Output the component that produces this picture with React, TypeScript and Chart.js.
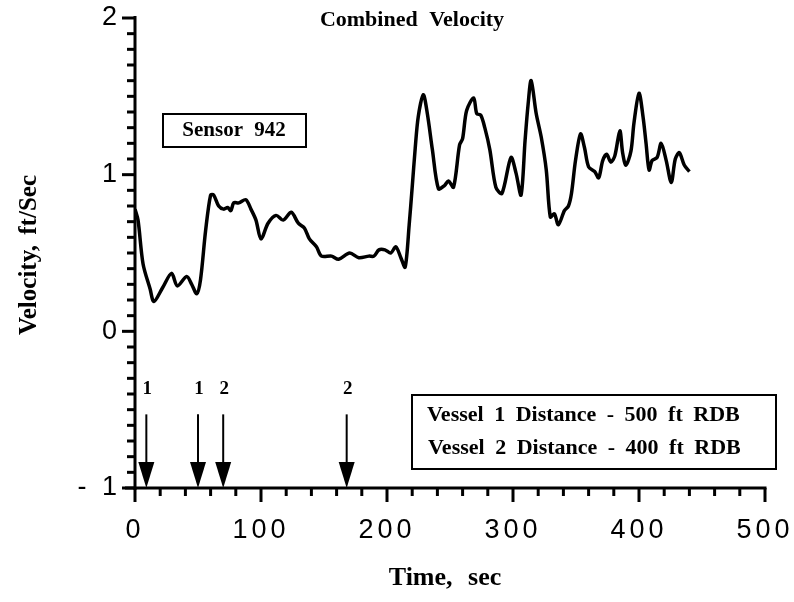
import { useEffect, useRef } from 'react';
import { Chart, registerables } from 'chart.js';

Chart.register(...registerables);

// Time (sec)
const times = [
  0, 2.4, 6.4, 12, 15, 22, 29, 33.6, 41, 45,
  49, 52, 56, 60, 62.4, 66.4, 70.4, 73.6, 76, 78.4,
  82.4, 88, 92, 96, 100, 105.6, 112, 117.6, 124, 129.6,
  134.4, 138.4, 144, 148, 156, 161.6, 170.4, 177.6, 185.6, 189.6,
  193.6, 198.4, 203, 207, 211, 214.4, 217.6, 220, 222.4, 224.8,
  228.8, 232, 236, 240.8, 245.6, 248.8, 252.8, 257.6, 260, 263.2,
  268.8, 271.2, 274.4, 277.6, 281.6, 286.4, 291.2, 298.4, 302.4, 306.4,
  309.6, 312, 314.4, 318.4, 322.4, 326.4, 329.6, 332.8, 336, 340.8,
  344, 346.4, 349.6, 353.6, 356.8, 360, 364.8, 368, 371.2, 374.4,
  377.6, 380.8, 384.8, 387, 389.6, 393.6, 396, 400, 403.2, 405.6,
  408, 410.4, 414.4, 417.6, 421.6, 425.6, 428.8, 432, 436, 440,
];

// Combined velocity (ft/sec)
const velocity = [
  0.78, 0.71, 0.43, 0.27, 0.19, 0.28, 0.37, 0.29, 0.35, 0.3,
  0.24, 0.33, 0.64, 0.87, 0.87, 0.8, 0.78, 0.79, 0.77, 0.82,
  0.82, 0.84, 0.78, 0.71, 0.59, 0.69, 0.74, 0.71, 0.76, 0.69,
  0.66, 0.59, 0.54, 0.48, 0.48, 0.46, 0.5, 0.47, 0.48, 0.48,
  0.52, 0.52, 0.5, 0.54, 0.47, 0.41, 0.68, 0.92, 1.17, 1.37,
  1.51, 1.39, 1.16, 0.91, 0.93, 0.96, 0.92, 1.19, 1.23, 1.41,
  1.49, 1.39, 1.38, 1.3, 1.16, 0.92, 0.88, 1.11, 1.01, 0.87,
  1.22, 1.45, 1.6, 1.39, 1.24, 1.03, 0.73, 0.75, 0.68, 0.77,
  0.8, 0.88, 1.09, 1.26, 1.17, 1.05, 1.02, 0.98, 1.09, 1.13,
  1.08, 1.12, 1.28, 1.14, 1.06, 1.15, 1.33, 1.52, 1.37, 1.2,
  1.03, 1.09, 1.11, 1.2, 1.09, 0.95, 1.1, 1.14, 1.06, 1.02,
];

const yTickLabels: Record<string, string> = { '2': '2', '1': '1', '0': '0', '-1': '- 1' };

// Vessel passage markers
const arrowTimes = [9, 50, 70, 168];
const arrowLabels = ['1', '1', '2', '2'];
const ARROW_TOP = -0.53;
const ARROW_LABEL_Y = -0.37;

const chartTitle = 'Combined Velocity';
const xTitle = 'Time, sec';
const yTitle = 'Velocity, ft/Sec';
const sensorLabel = 'Sensor 942';
const vesselLines = ['Vessel 1 Distance - 500 ft RDB', 'Vessel 2 Distance - 400 ft RDB'];

const SERIF = '"Liberation Serif", "Times New Roman", serif';

const decorPlugin = {
  id: 'decor',
  beforeDraw(chart: any) {
    (chart.ctx as any).letterSpacing = '4px';
  },
  afterDraw(chart: any) {
    const ctx: CanvasRenderingContext2D = chart.ctx;
    (ctx as any).letterSpacing = '0px';
    const xs = chart.scales.x;
    const ys = chart.scales.y;
    const x0 = xs.getPixelForValue(0);
    const yBottom = ys.getPixelForValue(-1);
    ctx.save();
    ctx.strokeStyle = '#000';
    ctx.fillStyle = '#000';
    ctx.lineCap = 'butt';

    // axis lines
    ctx.lineWidth = 3;
    ctx.beginPath();
    ctx.moveTo(x0, ys.getPixelForValue(2) - 2);
    ctx.lineTo(x0, yBottom + 2);
    ctx.moveTo(x0 - 10, yBottom);
    ctx.lineTo(xs.getPixelForValue(500) + 1.5, yBottom);
    ctx.stroke();

    // y ticks
    for (let i = -10; i <= 20; i++) {
      const v = i / 10;
      const py = ys.getPixelForValue(v);
      const len = i % 10 === 0 ? 13 : 8;
      ctx.beginPath();
      ctx.moveTo(x0 - len, py);
      ctx.lineTo(x0, py);
      ctx.stroke();
    }
    // x ticks
    for (let t = 0; t <= 500; t += 20) {
      const px = xs.getPixelForValue(t);
      const len = t % 100 === 0 ? 14 : 8;
      ctx.beginPath();
      ctx.moveTo(px, yBottom);
      ctx.lineTo(px, yBottom + len);
      ctx.stroke();
    }

    // arrows
    const yTop = ys.getPixelForValue(ARROW_TOP);
    const yLab = ys.getPixelForValue(ARROW_LABEL_Y);
    ctx.font = `bold 19px ${SERIF}`;
    ctx.textAlign = 'center';
    ctx.textBaseline = 'middle';
    arrowTimes.forEach((t, i) => {
      const px = xs.getPixelForValue(t);
      ctx.lineWidth = 2;
      ctx.beginPath();
      ctx.moveTo(px, yTop);
      ctx.lineTo(px, yBottom - 24);
      ctx.stroke();
      ctx.beginPath();
      ctx.moveTo(px - 8, yBottom - 26);
      ctx.lineTo(px + 8, yBottom - 26);
      ctx.lineTo(px, yBottom);
      ctx.closePath();
      ctx.fill();
      ctx.fillText(arrowLabels[i], px + 1, yLab);
    });

    // title
    (ctx as any).wordSpacing = '6px';
    ctx.font = `bold 22px ${SERIF}`;
    ctx.textAlign = 'center';
    ctx.fillText(chartTitle, 412, 20);

    // x title
    (ctx as any).wordSpacing = '9px';
    ctx.font = `bold 26px ${SERIF}`;
    ctx.fillText(xTitle, 445, 578);

    // y title
    (ctx as any).wordSpacing = '4px';
    ctx.save();
    ctx.translate(30, 255);
    ctx.rotate(-Math.PI / 2);
    ctx.font = `bold 25px ${SERIF}`;
    ctx.fillText(yTitle, 0, 0);
    ctx.restore();

    // sensor box
    ctx.lineWidth = 2;
    ctx.strokeRect(163, 114, 143, 33);
    (ctx as any).wordSpacing = '6px';
    ctx.font = `bold 21px ${SERIF}`;
    ctx.textAlign = 'center';
    ctx.fillText(sensorLabel, 234, 131);

    // vessel box
    ctx.fillStyle = '#fff';
    ctx.fillRect(412, 395, 364, 74);
    ctx.fillStyle = '#000';
    ctx.strokeRect(412, 395, 364, 74);
    ctx.textAlign = 'left';
    ctx.font = `bold 22px ${SERIF}`;
    (ctx as any).wordSpacing = '5px';
    ctx.fillText(vesselLines[0], 427, 415);
    ctx.fillText(vesselLines[1], 428, 448);
    ctx.restore();
  },
};

export default function App() {
  const ref = useRef<HTMLCanvasElement | null>(null);
  useEffect(() => {
    if (!ref.current) return;
    const chart = new Chart(ref.current, {
      type: 'line',
      data: {
        datasets: [
          {
            data: times.map((t, i) => ({ x: t, y: velocity[i] })),
            borderColor: '#000',
            borderWidth: 3.5,
            pointRadius: 0,
            tension: 0.3,
            fill: false,
          },
        ],
      },
      options: {
        animation: false,
        responsive: false,
        devicePixelRatio: 1,
        layout: { padding: { top: 18, right: 29, left: 0, bottom: 0 } },
        plugins: { legend: { display: false }, tooltip: { enabled: false }, title: { display: false } },
        scales: {
          x: {
            type: 'linear',
            min: 0,
            max: 500,
            grid: { display: false },
            border: { display: false },
            ticks: {
              stepSize: 100,
              color: '#000',
              padding: 18,
              maxRotation: 0,
              font: { family: '"Liberation Sans", Arial, sans-serif', size: 27 },
            },
            afterFit: (s: any) => {
              s.height = 114;
              s.paddingLeft = 0;
              s.paddingRight = 0;
            },
          },
          y: {
            type: 'linear',
            min: -1,
            max: 2,
            grid: { display: false },
            border: { display: false },
            ticks: {
              stepSize: 1,
              color: '#000',
              padding: 6,
              font: { family: '"Liberation Sans", Arial, sans-serif', size: 27 },
              callback: (v: any) => yTickLabels[String(v)] ?? '',
            },
            afterFit: (s: any) => {
              s.width = 135;
              s.paddingTop = 0;
              s.paddingBottom = 0;
            },
          },
        },
      } as any,
      plugins: [decorPlugin],
    });
    return () => chart.destroy();
  }, []);
  return (
    <div style={{ position: 'fixed', left: 0, top: 0, width: 794, height: 602, background: '#fff' }}>
      <canvas ref={ref} width={794} height={602} style={{ width: 794, height: 602, display: 'block' }} />
    </div>
  );
}
